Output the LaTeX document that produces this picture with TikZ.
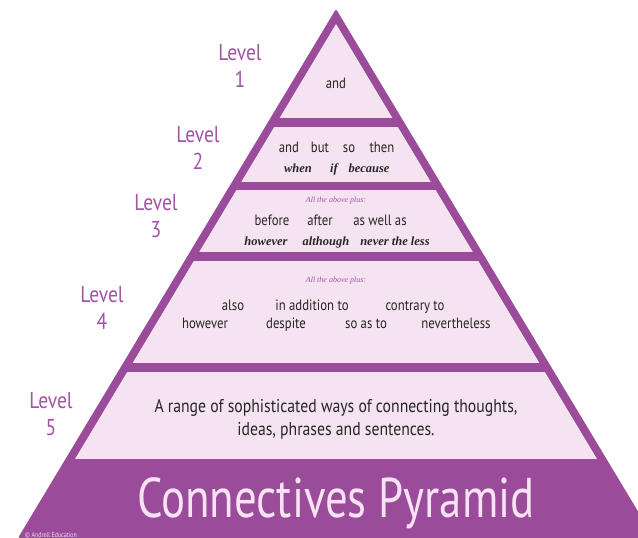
\documentclass[tikz,border=0pt]{standalone}
\usepackage{fontspec}
\setmainfont{PT Sans}[FakeStretch=0.85]
\newfontfamily\titlefont{PT Sans}[FakeStretch=0.8]
\newfontfamily\serifit{Liberation Serif}
\definecolor{bandpurple}{RGB}{154,76,154}
\definecolor{bandpink}{RGB}{246,227,241}
\definecolor{levelpurple}{RGB}{162,84,166}
\definecolor{wordgray}{RGB}{38,38,38}
\definecolor{titlepink}{RGB}{248,226,243}

\tikzset{
  levellabel/.style={text=levelpurple, font=\fontsize{23}{27}\selectfont, align=center, inner sep=0pt},
  words/.style={text=wordgray, font=\fontsize{15}{18}\selectfont, inner sep=0pt, anchor=base},
  bigwords/.style={words, font=\fontsize{18.5}{22}\selectfont},
  slanted/.style={text=wordgray, font=\serifit\fontsize{12.5}{15}\selectfont\bfseries\itshape, inner sep=0pt, anchor=base},
  plusnote/.style={text=levelpurple, font=\serifit\fontsize{8}{9}\selectfont\itshape, inner sep=0pt, anchor=base},
}

\begin{document}
\begin{tikzpicture}[x=1pt, y=-1pt]
    \clip (0, 0) rectangle (638, 538);
    \fill[white] (0, 0) rectangle (638, 538);

    % outer triangle and the pink bands inside it
    \fill[bandpurple, rounded corners=2pt] (336, 9) -- (18, 538) -- (654, 538) -- cycle;
    \begin{scope}
      \clip (336, 24) -- (75, 459) -- (597, 459) -- cycle;
      \foreach \top/\bot in {24/118, 127/182, 190/252, 261/363, 372/459}
        \fill[bandpink] (0, \top) rectangle (638, \bot);
    \end{scope}

    % level labels
    \node[levellabel] (lev1) at (240, 66) {Level\\1};
    \node[levellabel] (lev2) at (198, 148) {Level\\2};
    \node[levellabel] (lev3) at (156, 216) {Level\\3};
    \node[levellabel] (lev4) at (102, 308) {Level\\4};
    \node[levellabel] (lev5) at (51, 414) {Level\\5};

    % level 1
    \node[words] (and) at (336, 88) {and};

    % level 2
    \foreach \w/\x [count=\i] in {and/289, but/320, so/349, then/382}
      \node[words] (twoa\i) at (\x, 152) {\w};
    \foreach \w/\x [count=\i] in {when/298, if/334, because/369}
      \node[slanted] (twob\i) at (\x, 172) {\w};

    % level 3
    \node[plusnote] (plus3) at (336, 202) {All the above plus:};
    \foreach \w/\x [count=\i] in {before/272, after/320, as well as/380}
      \node[words] (threea\i) at (\x, 225) {\w};
    \foreach \w/\x [count=\i] in {however/266, although/326, never the less/395}
      \node[slanted] (threeb\i) at (\x, 245) {\w};

    % level 4
    \node[plusnote] (plus4) at (336, 282) {All the above plus:};
    \foreach \w/\x [count=\i] in {also/233, in addition to/312, contrary to/415}
      \node[words] (foura\i) at (\x, 310) {\w};
    \foreach \w/\x [count=\i] in {however/205, despite/286, so as to/366, nevertheless/456}
      \node[words] (fourb\i) at (\x, 328) {\w};

    % level 5
    \node[bigwords] (fivea) at (336, 412) {A range of sophisticated ways of connecting thoughts,};
    \node[bigwords] (fiveb) at (336, 435) {ideas, phrases and sentences.};

    % title band
    \node[text=titlepink, font=\titlefont\fontsize{56}{60}\selectfont, inner sep=0pt, anchor=base] (title) at (336, 517) {Connectives Pyramid};
    \node[text=titlepink, font=\fontsize{7}{8}\selectfont, inner sep=0pt, anchor=base west] (copy) at (25, 537) {\textcopyright{} Andrell Education};
  \end{tikzpicture}
\end{document}
